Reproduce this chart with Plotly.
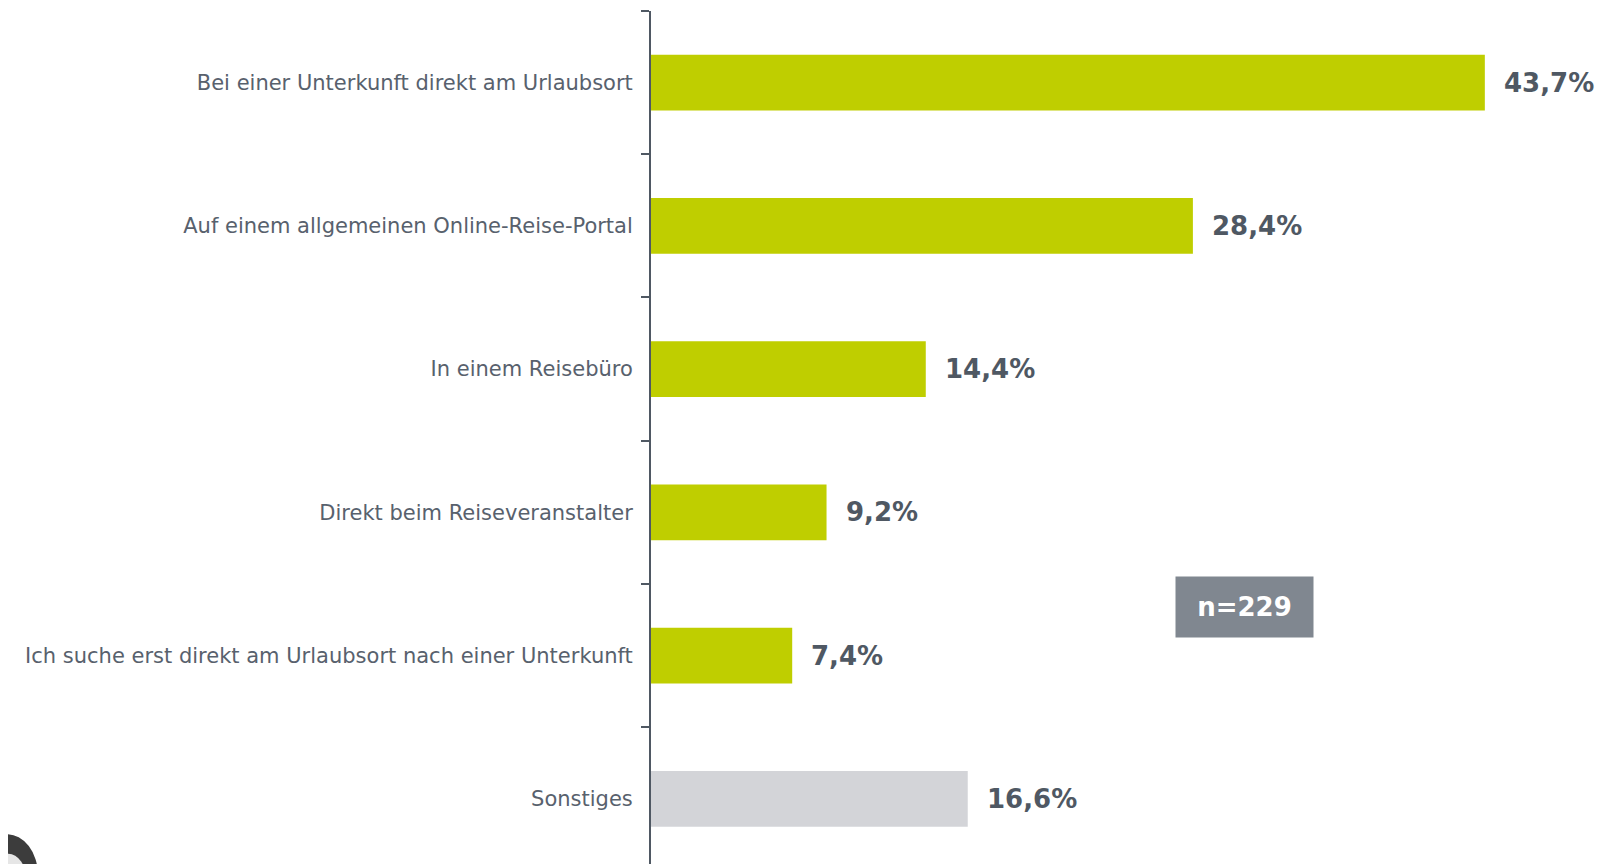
import plotly.graph_objects as go

# Daten
kategorien = [
    "Bei einer Unterkunft direkt am Urlaubsort",
    "Auf einem allgemeinen Online-Reise-Portal",
    "In einem Reisebüro",
    "Direkt beim Reiseveranstalter",
    "Ich suche erst direkt am Urlaubsort nach einer Unterkunft",
    "Sonstiges",
]
werte = [43.7, 28.4, 14.4, 9.2, 7.4, 16.6]
farben = ["#bfce00", "#bfce00", "#bfce00", "#bfce00", "#bfce00", "#d3d4d8"]
stichprobe = "n=229"

TEXT_COLOR = "#58616d"
AXIS_COLOR = "#4f5863"

fig = go.Figure(
    go.Bar(
        x=werte,
        y=kategorien,
        orientation="h",
        marker=dict(color=farben, line=dict(width=0)),
        width=0.39,
        hoverinfo="skip",
    )
)

# Wertebeschriftungen rechts neben den Balken
for kat, wert in zip(kategorien, werte):
    fig.add_annotation(
        x=wert,
        y=kat,
        text=f"{wert:.1f}".replace(".", ",") + "%",
        showarrow=False,
        xanchor="left",
        xshift=17,
        font=dict(family="DejaVu Sans", size=26, color=AXIS_COLOR, weight="bold"),
    )

# Stichprobengröße
fig.add_annotation(
    x=0.6215,
    y=0.301,
    xref="paper",
    yref="paper",
    xanchor="center",
    yanchor="middle",
    text=stichprobe,
    showarrow=False,
    bgcolor="#808790",
    width=121,
    height=44,
    borderpad=8,
    font=dict(family="DejaVu Sans", size=26, color="white", weight="bold"),
)

# angeschnittenes Logo unten links
fig.add_shape(type="circle", xref="paper", yref="paper",
              x0=-0.707, x1=-0.642, y0=-0.06, y1=0.035,
              fillcolor="#3c3c3c", line=dict(width=0))
fig.add_shape(type="circle", xref="paper", yref="paper",
              x0=-0.692, x1=-0.654, y0=-0.05, y1=0.012,
              fillcolor="#e6e6e6", line=dict(width=0))

fig.update_layout(
    width=1598,
    height=856,
    margin=dict(l=643, r=0, t=3, b=0),
    plot_bgcolor="white",
    paper_bgcolor="white",
    showlegend=False,
    xaxis=dict(
        range=[0, 50.05],
        visible=False,
    ),
    yaxis=dict(
        categoryorder="array",
        categoryarray=kategorien,
        range=[5.455, -0.5],
        showline=True,
        linecolor=AXIS_COLOR,
        linewidth=2,
        ticks="outside",
        tickson="boundaries",
        ticklen=8,
        tickwidth=2,
        tickcolor=AXIS_COLOR,
        showgrid=False,
        zeroline=False,
        ticklabelstandoff=12,
        tickfont=dict(family="DejaVu Sans", size=21, color=TEXT_COLOR),
    ),
)

fig.write_html("out.html")
